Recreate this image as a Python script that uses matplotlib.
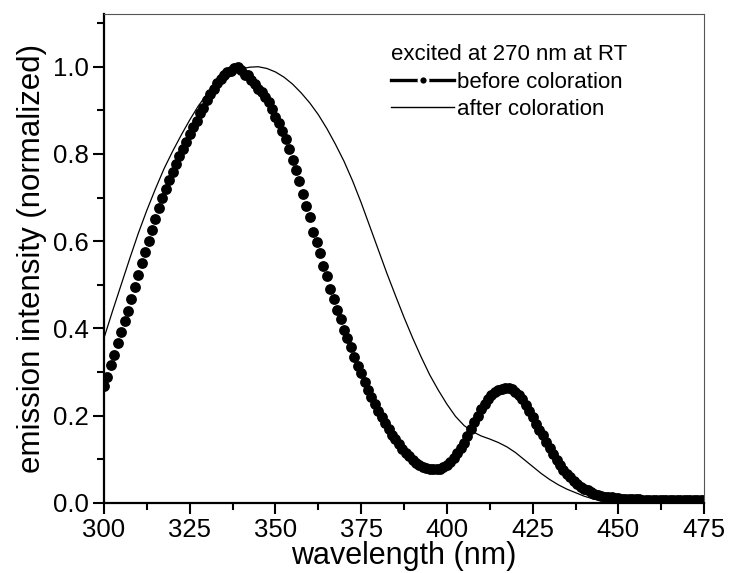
import numpy as np
import matplotlib
matplotlib.use('Agg')
import matplotlib.pyplot as plt
from matplotlib.lines import Line2D
from matplotlib.ticker import MultipleLocator

plt.rcParams['font.family'] = ['Liberation Sans', 'DejaVu Sans']

# before coloration, 1 nm steps 300..475
wl_before = np.arange(300, 476, 1)
before = [
    0.268, 0.289, 0.316, 0.338, 0.366, 0.391, 0.416, 0.440, 0.468, 0.495,   # 300-309
    0.522, 0.549, 0.574, 0.600, 0.626, 0.651, 0.675, 0.699, 0.720, 0.740,   # 310-319
    0.758, 0.777, 0.795, 0.811, 0.827, 0.845, 0.861, 0.875, 0.895, 0.906,   # 320-329
    0.924, 0.938, 0.950, 0.962, 0.973, 0.982, 0.987, 0.991, 0.996, 1.000,   # 330-339
    0.993, 0.980, 0.982, 0.970, 0.960, 0.950, 0.942, 0.930, 0.918, 0.902,   # 340-349
    0.885, 0.870, 0.852, 0.834, 0.812, 0.785, 0.762, 0.738, 0.708, 0.680,   # 350-359
    0.656, 0.622, 0.598, 0.572, 0.542, 0.520, 0.490, 0.467, 0.442, 0.422,   # 360-369
    0.397, 0.377, 0.357, 0.334, 0.314, 0.298, 0.276, 0.259, 0.242, 0.226,   # 370-379
    0.211, 0.197, 0.183, 0.169, 0.156, 0.145, 0.134, 0.124, 0.115, 0.107,   # 380-389
    0.099, 0.092, 0.087, 0.083, 0.080, 0.078, 0.077, 0.077, 0.078, 0.081,   # 390-399
    0.086, 0.093, 0.102, 0.113, 0.125, 0.138, 0.153, 0.168, 0.184, 0.200,   # 400-409
    0.214, 0.226, 0.237, 0.246, 0.253, 0.258, 0.261, 0.263, 0.263, 0.260,   # 410-419
    0.255, 0.247, 0.237, 0.225, 0.211, 0.196, 0.181, 0.167, 0.155, 0.140,   # 420-429
    0.126, 0.112, 0.099, 0.087, 0.076, 0.066, 0.058, 0.050, 0.043, 0.037,   # 430-439
    0.032, 0.028, 0.024, 0.021, 0.018, 0.016, 0.014, 0.013, 0.012, 0.011,   # 440-449
    0.010, 0.009, 0.009, 0.008, 0.008, 0.008, 0.008, 0.007, 0.007, 0.007,   # 450-459
    0.007, 0.007, 0.007, 0.007, 0.007, 0.007, 0.006, 0.006, 0.006, 0.006,   # 460-469
    0.006, 0.006, 0.006, 0.006, 0.006, 0.006,                               # 470-475
]

# after coloration, 2.5 nm steps 300..445
wl_after = np.arange(300, 445.1, 2.5)
after = [
    0.378, 0.440, 0.500, 0.560, 0.618, 0.671, 0.720, 0.766, 0.806, 0.843,
    0.878, 0.910, 0.937, 0.958, 0.974, 0.987, 0.995, 0.999, 1.000, 0.996,
    0.988, 0.976, 0.960, 0.940, 0.917, 0.890, 0.858, 0.822, 0.783, 0.738,
    0.688, 0.634, 0.580, 0.526, 0.475, 0.425, 0.378, 0.334, 0.293, 0.258,
    0.226, 0.198, 0.177, 0.163, 0.153, 0.146, 0.138, 0.128, 0.115, 0.099,
    0.083, 0.067, 0.053, 0.041, 0.031, 0.023, 0.015, 0.009, 0.005,
]

fig = plt.figure(figsize=(7.3, 5.73), dpi=100)
ax = fig.add_axes([0.1425, 0.1227, 0.822, 0.8529])

ax.plot(wl_after, after, color='black', lw=0.9)
ax.plot(wl_before, before, color='black', lw=0, marker='o', ms=7.8,
        markeredgewidth=0)

ax.set_xlim(300, 475)
ax.set_ylim(0, 1.121)
ax.xaxis.set_major_locator(MultipleLocator(25))
ax.xaxis.set_minor_locator(MultipleLocator(12.5))
ax.yaxis.set_major_locator(MultipleLocator(0.2))
ax.yaxis.set_minor_locator(MultipleLocator(0.1))
ax.yaxis.set_major_formatter(matplotlib.ticker.FormatStrFormatter('%.1f'))

ax.tick_params(which='major', direction='out', length=8, width=1.5,
               labelsize=18.5, pad=3)
ax.tick_params(which='minor', direction='out', length=5, width=1.5)
ax.tick_params(top=False, right=False)

for s in ['left', 'bottom']:
    ax.spines[s].set_linewidth(1.6)
    ax.spines[s].set_color('black')
for s in ['top', 'right']:
    ax.spines[s].set_linewidth(0.8)
    ax.spines[s].set_color('#555555')

ax.set_xlabel('wavelength (nm)', fontsize=22, labelpad=-1)
ax.set_ylabel('emission intensity (normalized)', fontsize=22.5, labelpad=4)

handles = [
    Line2D([], [], color='black', lw=2.4, marker='o', ms=6.5,
           markerfacecolor='black', markeredgecolor='white', markeredgewidth=2),
    Line2D([], [], color='black', lw=1),
]
leg = ax.legend(handles, ['before coloration', 'after coloration'],
                title='excited at 270 nm at RT', title_fontsize=16,
                fontsize=16, frameon=False, loc='upper right',
                bbox_to_anchor=(0.895, 0.965), handlelength=2.8,
                handletextpad=0.15, labelspacing=0.28, alignment='left',
                borderaxespad=0.2)

fig.savefig('out.png', dpi=100)
